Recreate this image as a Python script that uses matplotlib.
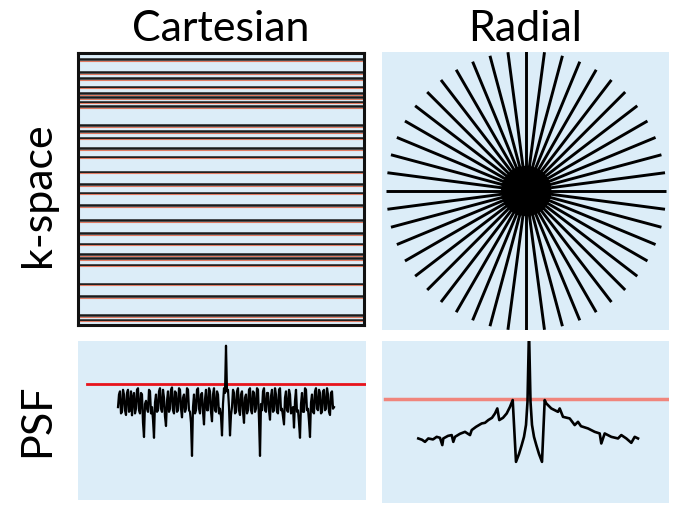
import matplotlib
matplotlib.use("Agg")
import matplotlib.pyplot as plt
from matplotlib.patches import Circle
import numpy as np

# --- data ----------------------------------------------------------------
# Cartesian k-space: sampled phase-encode lines (ky, rows -64..64)
cart_lines_ky = [61, 55, 52, 48, 45, 43, 41, 39, 30, 27, 24, 19, 15, 8, 2,
                 -2, -8, -15, -21, -26, -31, -33, -36, -45, -51, -60, -62]

# Radial k-space: spoke angles (deg), each a full diameter
spoke_angles_deg = [0, 7.5, 15, 22.5, 30, 37.5, 45, 52.5, 60, 67.5, 75, 82.5,
                    90, 97.5, 105, 112.5, 120, 127.5, 135, 142.5, 150, 157.5,
                    165, 172.5]

# Cartesian PSF (offset -108..108 from centre, amplitude a.u.)
cart_psf_x = list(range(-108, 109))
cart_psf_y = [
    58, 66, 68, 54, 55, 69, 66, 56, 53, 67, 69, 55,
    56, 68, 52.8, 64, 67, 54, 57, 69, 70, 56, 54, 67,
    66, 48, 39, 60, 62, 57, 55, 69, 68, 54, 58, 50,
    38.5, 61, 66, 55, 56, 68, 70, 57, 55, 69, 64, 52,
    46, 62, 68, 55, 57, 69, 70.5, 56, 54, 68, 67, 55,
    56, 70, 69, 57, 51.5, 64, 66, 55, 57, 70, 69, 56,
    55, 48, 27, 58, 66, 54, 56, 69, 70, 57, 54, 66,
    67, 55, 47, 63, 69, 56, 56, 70, 68, 55, 49, 66,
    70, 56, 55, 68, 66, 54, 57, 52, 40, 60, 70, 67,
    97,
    68, 69, 58, 40, 53, 58, 69, 67, 54, 55, 68, 70,
    56, 53, 66, 68, 55, 48, 64, 66, 54, 56, 69, 70,
    56, 54, 68, 67, 55, 57, 70, 69, 50, 27, 60, 56,
    68, 70, 56, 55, 67, 67, 56, 50, 65, 69, 55, 56,
    70, 66, 55, 54, 69, 70, 56, 57, 52, 47, 64, 68,
    56, 55, 69, 66, 54, 56, 58, 45, 62, 69, 55, 56,
    48, 38.5, 60, 67, 55, 55, 70, 69, 56, 57, 49, 39,
    61, 66, 55, 54, 68, 70, 57, 56, 69, 67, 54, 55,
    68, 69, 56, 57, 70, 66, 55, 53, 67, 68, 57, 58]
cart_thresh = 72.7

# Radial PSF (offset from centre, amplitude a.u.)
rad_psf_x = [-110.7, -107, -104, -100.7, -96, -92.3, -89, -86.7, -85.7, -81,
             -77.3, -75.7, -74, -69, -64, -59, -57.3, -53, -47.3, -44, -40.7,
             -37, -34, -31.7, -29.7, -26, -22.3, -19, -16.3, -13, -10, -7.3,
             -5, -3, -1.5, 0, 1.5, 3, 5, 7.3, 10, 13, 15.7, 17.3, 22.3, 29,
             30.7, 34, 40.7, 45.7, 49, 52, 59, 65.7, 70.7, 72.3, 75.7, 82.3,
             89, 92.3, 97.3, 102.3, 105.7, 109]
rad_psf_y = [40.6, 39.8, 38.5, 40.6, 40, 41.6, 41, 36.5, 40.6, 42.2, 42.7, 38.5,
             41.6, 43.5, 44.7, 42.7, 45.8, 47.8, 49.9, 50.3, 52, 53.4, 56.1,
             59.2, 52, 53.4, 56.1, 60.2, 64.4, 26.1, 31, 36.5, 41.6, 49, 63.4,
             108, 63.4, 49, 41.6, 36.5, 31, 26.1, 64.4, 62.3, 59.2, 57.1, 59.2,
             54, 53, 48.9, 50.9, 48.2, 46.8, 44.7, 43.7, 37.5, 43.7, 41.6, 40.6,
             42.7, 40.6, 37.9, 41.6, 40.6]
rad_thresh = 65.2

BG = "#dcedf8"
W, H = 673, 505


def box(x0, y0, x1, y1):
    """axes from pixel box (left, top, right, bottom)"""
    return fig.add_axes([x0 / W, 1 - y1 / H, (x1 - x0) / W, (y1 - y0) / H])


def bg(ax):
    ax.axis("off")
    ax.add_patch(plt.Rectangle((0, 0), 1, 1, transform=ax.transAxes,
                               color=BG, zorder=-1))


fig = plt.figure(figsize=(W / 100, H / 100), dpi=100)
font = dict(family=["Lato", "DejaVu Sans"], color="black")

# Cartesian k-space
ax = box(78, 53, 364, 325)
ax.set_facecolor(BG)
for ky in cart_lines_ky:
    ax.axhline(ky, color="#1a1a1a", lw=1.8)
    ax.axhline(ky - 0.75, color="#e07a62", lw=0.8)
ax.set_xlim(-64, 64); ax.set_ylim(-64.5, 64)
ax.set_xticks([]); ax.set_yticks([])
for s in ax.spines.values():
    s.set_linewidth(2.2); s.set_color("#111111")

# Radial k-space
ax = box(382, 52, 669, 330)
bg(ax)
for a in np.deg2rad(spoke_angles_deg):
    ax.plot([-np.cos(a), np.cos(a)], [-np.sin(a), np.sin(a)],
            color="black", lw=2.1, solid_capstyle="butt")
ax.add_patch(Circle((0, 0), 0.175, color="black", zorder=3))
ax.set_xlim(-1.03, 1.02); ax.set_ylim(-0.993, 0.993)

# Cartesian PSF
ax = box(78, 341, 366, 500)
bg(ax)
ax.plot([-139, 140], [cart_thresh, cart_thresh], color="#e8141c", lw=2)
ax.plot(cart_psf_x, cart_psf_y, color="black", lw=1.6)
ax.set_xlim(-148, 140); ax.set_ylim(-1, 100)

# Radial PSF
ax = box(382, 341, 669, 503)
bg(ax)
ax.plot([-144, 139], [rad_thresh, rad_thresh], color="#f0857c", lw=2.5)
ax.plot(rad_psf_x, rad_psf_y, color="black", lw=1.9)
ax.set_xlim(-147, 140); ax.set_ylim(0.6, 101)

# labels
fig.text(221 / W, 1 - 41 / H, "Cartesian", ha="center", va="baseline",
         fontsize=31, **font)
fig.text(525 / W, 1 - 41 / H, "Radial", ha="center", va="baseline",
         fontsize=31, **font)
fig.text(38 / W, 1 - 195 / H, "k-space", ha="center", va="center",
         rotation=90, fontsize=31, **font)
fig.text(37 / W, 1 - 420 / H, "PSF", ha="center", va="center",
         rotation=90, fontsize=31, **font)

fig.savefig("out.png", dpi=100)
